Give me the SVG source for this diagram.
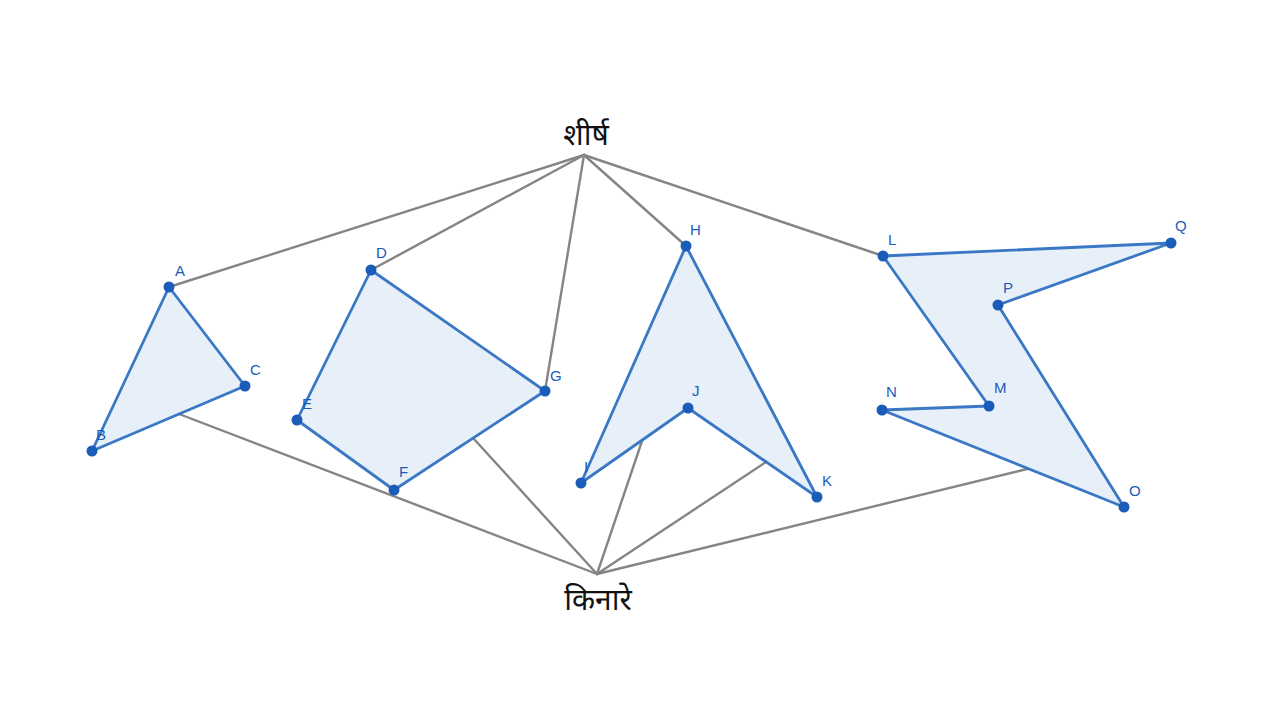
<svg xmlns="http://www.w3.org/2000/svg" width="1280" height="720" viewBox="0 0 1280 720">
<style>
.edge{stroke:#858585;stroke-width:2.4;fill:none;stroke-linecap:round}
.poly{fill:#e7eff8;stroke:#3a78c6;stroke-width:2.8;stroke-linejoin:round}
.pt{fill:#1a5cb8}
.lbl{font-family:"Liberation Sans",Arial,sans-serif;font-size:15px;fill:#1a5cb8}
.big{font-family:"Noto Sans Devanagari","Noto Serif Devanagari","Noto Sans",sans-serif;font-size:30px;fill:#111;text-anchor:middle}
</style>
<rect width="1280" height="720" fill="#fff"/>
<g id="connectors">
<line class="edge" x1="584" y1="155" x2="169" y2="287"/>
<line class="edge" x1="584" y1="155" x2="371" y2="270"/>
<line class="edge" x1="584" y1="155" x2="545" y2="391"/>
<line class="edge" x1="584" y1="155" x2="686" y2="246"/>
<line class="edge" x1="584" y1="155" x2="883" y2="256"/>
<line class="edge" x1="597" y1="574" x2="179" y2="414"/>
<line class="edge" x1="597" y1="574" x2="474" y2="439"/>
<line class="edge" x1="597" y1="574" x2="642" y2="441"/>
<line class="edge" x1="597" y1="574" x2="766" y2="462"/>
<line class="edge" x1="597" y1="574" x2="1031" y2="468"/>
</g>
<g id="shape-ABC">
<polygon class="poly" points="169,287 245,386 92,451"/>
<circle class="pt" cx="169" cy="287" r="5.5"/><circle class="pt" cx="245" cy="386" r="5.5"/><circle class="pt" cx="92" cy="451" r="5.5"/>
<text class="lbl" x="175" y="276">A</text><text class="lbl" x="250" y="375">C</text><text class="lbl" x="96" y="440">B</text>
</g>
<g id="shape-DEFG">
<polygon class="poly" points="371,270 545,391 394,490 297,420"/>
<circle class="pt" cx="371" cy="270" r="5.5"/><circle class="pt" cx="545" cy="391" r="5.5"/><circle class="pt" cx="394" cy="490" r="5.5"/><circle class="pt" cx="297" cy="420" r="5.5"/>
<text class="lbl" x="376" y="258">D</text><text class="lbl" x="550" y="381">G</text><text class="lbl" x="399" y="477">F</text><text class="lbl" x="302" y="409">E</text>
</g>
<g id="shape-HIJK">
<polygon class="poly" points="686,246 817,497 688,408 581,483"/>
<circle class="pt" cx="686" cy="246" r="5.5"/><circle class="pt" cx="817" cy="497" r="5.5"/><circle class="pt" cx="688" cy="408" r="5.5"/><circle class="pt" cx="581" cy="483" r="5.5"/>
<text class="lbl" x="690" y="235">H</text><text class="lbl" x="822" y="486">K</text><text class="lbl" x="692" y="396">J</text><text class="lbl" x="584" y="472">I</text>
</g>
<g id="shape-LMNOPQ">
<polygon class="poly" points="883,256 1171,243 998,305 1124,507 882,410 989,406"/>
<circle class="pt" cx="883" cy="256" r="5.5"/><circle class="pt" cx="1171" cy="243" r="5.5"/><circle class="pt" cx="998" cy="305" r="5.5"/><circle class="pt" cx="1124" cy="507" r="5.5"/><circle class="pt" cx="882" cy="410" r="5.5"/><circle class="pt" cx="989" cy="406" r="5.5"/>
<text class="lbl" x="888" y="245">L</text><text class="lbl" x="1175" y="231">Q</text><text class="lbl" x="1003" y="293">P</text><text class="lbl" x="1129" y="496">O</text><text class="lbl" x="886" y="397">N</text><text class="lbl" x="994" y="393">M</text>
</g>
<g id="node-top"><text class="big" x="586" y="145">शीर्ष</text></g>
<g id="node-bottom"><text class="big" x="598" y="610">किनारे</text></g>
</svg>
